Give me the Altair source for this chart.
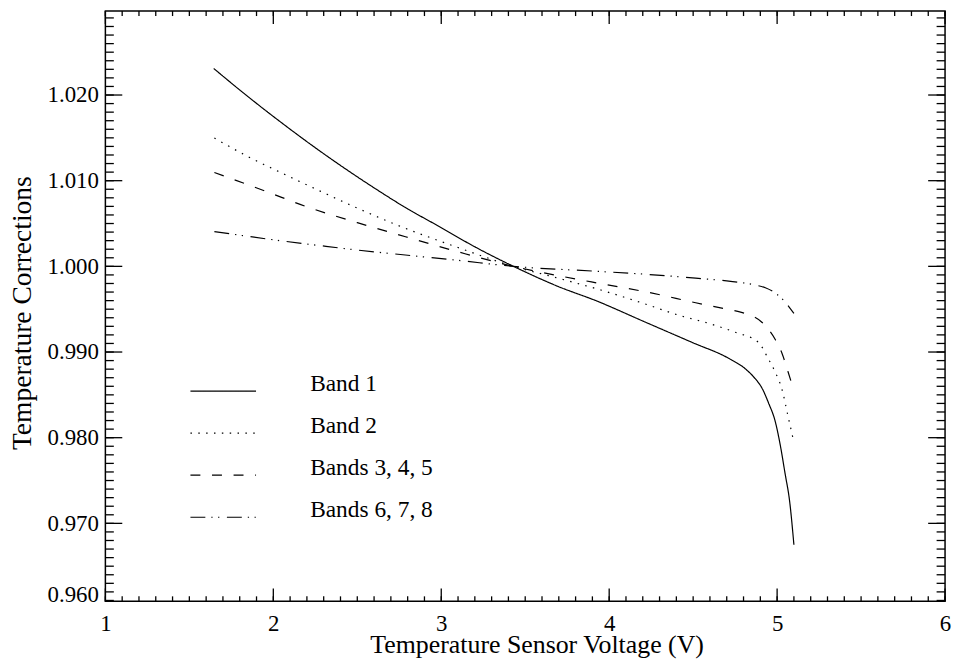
import altair as alt
import pandas as pd

# ---------------- data ----------------
BAND_NAMES = ["Band 1", "Band 2", "Bands 3, 4, 5", "Bands 6, 7, 8"]

BAND1_X = [1.645, 1.80, 1.97, 2.10, 2.266, 2.45, 2.62, 2.80, 2.976, 3.20, 3.43, 3.70, 3.923,
           4.20, 4.50, 4.71, 4.81, 4.86, 4.911, 4.95, 4.988, 5.02, 5.047, 5.075, 5.10]
BAND1_Y = [1.0231, 1.02059, 1.01795, 1.01601, 1.01362, 1.01111, 1.00891, 1.00671, 1.00478,
           1.00228, 1.0000, 0.99762, 0.99598, 0.99362, 0.99107, 0.98928, 0.98805, 0.9871,
           0.98575, 0.9840, 0.98195, 0.9790, 0.97586, 0.9725, 0.9675]

BAND2_X = [1.649, 1.85, 2.05, 2.266, 2.50, 2.74, 3.10, 3.43, 3.70, 3.95, 4.20, 4.414, 4.60,
           4.751, 4.888, 4.947, 4.99, 5.027, 5.067, 5.10]
BAND2_Y = [1.01498, 1.0128, 1.0109, 1.0089, 1.0068, 1.0048, 1.0022, 1.0000, 0.9986, 0.99724,
           0.9957, 0.9943, 0.9933, 0.9923, 0.99115, 0.98923, 0.9876, 0.98578, 0.98233, 0.97946]

BAND3_X = [1.649, 1.95, 2.207, 2.50, 2.787, 3.10, 3.43, 3.70, 3.964, 4.25, 4.515, 4.70,
           4.793, 4.911, 4.988, 5.03, 5.065, 5.10]
BAND3_Y = [1.01095, 1.0088, 1.0069, 1.0051, 1.00345, 1.0017, 1.0000, 0.9989, 0.99793,
           0.9969, 0.99575, 0.9950, 0.9946, 0.99345, 0.99149, 0.9898, 0.98770, 0.9855]

BAND4_X = [1.649, 2.0, 2.266, 2.50, 2.757, 3.10, 3.43, 3.923, 4.20, 4.515, 4.70, 4.870,
           4.93, 4.988, 5.04, 5.10]
BAND4_Y = [1.00406, 1.0031, 1.00245, 1.0019, 1.00138, 1.0007, 1.0000, 0.99943, 0.9991,
           0.99862, 0.9983, 0.99782, 0.9975, 0.9969, 0.9960, 0.9945]

X_DOMAIN = [1, 6]
Y_DOMAIN = [0.9609, 1.0298]
X_MAJOR = [1, 2, 3, 4, 5, 6]
X_MINOR = [round(1 + 0.1 * i, 1) for i in range(51)]
Y_MAJOR = [0.970, 0.980, 0.990, 1.000, 1.010, 1.020]
Y_MINOR = [round(0.961 + 0.001 * i, 3) for i in range(69)]
Y_LABEL_VALUES = [Y_DOMAIN[0]] + Y_MAJOR

# ---------------- build tables ----------------
rows = []
for name, xs_, ys_ in zip(BAND_NAMES,
                          [BAND1_X, BAND2_X, BAND3_X, BAND4_X],
                          [BAND1_Y, BAND2_Y, BAND3_Y, BAND4_Y]):
    for xv, yv in zip(xs_, ys_):
        rows.append({"band": name, "x": xv, "y": yv})
df = pd.DataFrame(rows)

x_major_df = pd.DataFrame({"v": X_MAJOR})
x_minor_df = pd.DataFrame({"v": X_MINOR})
y_major_df = pd.DataFrame({"v": Y_MAJOR})
y_minor_df = pd.DataFrame({"v": Y_MINOR})

# ---------------- styling ----------------
FONT = "Liberation Serif"
W, H = 845, 594
DASHES = [[1, 0], [1.5, 6.4], [10, 11.7], [15, 6, 1.3, 5.5, 1.3, 7.6]]
X_MAJ_LEN, X_MIN_LEN = 13, 5
Y_MAJ_LEN, Y_MIN_LEN = 17, 8.5
TICK_W = 1.3

xscale = alt.Scale(domain=X_DOMAIN, nice=False, zero=False)
yscale = alt.Scale(domain=Y_DOMAIN, nice=False, zero=False)

x_label_axis = alt.Axis(
    orient="bottom", values=X_MAJOR, format="d", ticks=False, tickSize=0, domain=False,
    grid=False, labelFlush=False, labelPadding=11.8, labelFont=FONT, labelFontSize=23,
    labelColor="black", labelOverlap=False,
    title="Temperature Sensor Voltage (V)", titleFont=FONT, titleFontSize=26,
    titleFontWeight="normal", titleColor="black", titleBaseline="alphabetic",
    titleAlign="center", titleX=434, titleY=52,
)
y_label_axis = alt.Axis(
    orient="left", values=Y_LABEL_VALUES,
    labelExpr="datum.value < 0.965 ? '0.960' : format(datum.value, '.3f')",
    ticks=False, tickSize=0, domain=False, grid=False, labelFlush=True,
    labelFlushOffset=4.8, labelPadding=7, labelFont=FONT, labelFontSize=23,
    labelColor="black", labelOverlap=False,
    title="Temperature Corrections", titleFont=FONT, titleFontSize=27.7,
    titleFontWeight="normal", titleColor="black", titleBaseline="alphabetic",
    titleAlign="center", titleAngle=270, titleX=-75, titleY=303.5,
)

legend = alt.Legend(
    orient="none", legendX=84.6, legendY=348.5, title=None, padding=0,
    symbolType="stroke", symbolSize=4356, symbolStrokeWidth=1.2,
    symbolStrokeColor="black", labelFont=FONT, labelFontSize=23.5, labelColor="black",
    labelOffset=53.5, rowPadding=3.3, labelBaseline="alphabetic", labelLimit=400,
)

lines = alt.Chart(df).mark_line(color="black", strokeWidth=1.2, interpolate="monotone").encode(
    x=alt.X("x:Q", scale=xscale, axis=x_label_axis),
    y=alt.Y("y:Q", scale=yscale, axis=y_label_axis),
    strokeDash=alt.StrokeDash("band:N", scale=alt.Scale(domain=BAND_NAMES, range=DASHES),
                              sort=BAND_NAMES, legend=legend),
)


def x_ticks(data, y0, y1):
    return alt.Chart(data).mark_rule(color="black", strokeWidth=TICK_W).encode(
        x=alt.X("v:Q", scale=xscale, axis=None),
        y=alt.value(y0), y2=alt.value(y1),
    )


def y_ticks(data, x0, x1):
    return alt.Chart(data).mark_rule(color="black", strokeWidth=TICK_W).encode(
        y=alt.Y("v:Q", scale=yscale, axis=None),
        x=alt.value(x0), x2=alt.value(x1),
    )


layers = [
    lines,
    x_ticks(x_major_df, H, H - X_MAJ_LEN),
    x_ticks(x_minor_df, H, H - X_MIN_LEN),
    x_ticks(x_major_df, 0, X_MAJ_LEN),
    x_ticks(x_minor_df, 0, X_MIN_LEN),
    y_ticks(y_major_df, 0, Y_MAJ_LEN),
    y_ticks(y_minor_df, 0, Y_MIN_LEN),
    y_ticks(y_major_df, W, W - Y_MAJ_LEN),
    y_ticks(y_minor_df, W, W - Y_MIN_LEN),
]

chart = (
    alt.layer(*layers)
    .resolve_axis(x="independent", y="independent")
    .properties(
        width=W, height=H,
        autosize=alt.AutoSizeParams(type="none"),
        padding={"left": 98, "top": 1, "right": 8, "bottom": 61},
    )
    .configure(font=FONT)
    .configure_view(stroke="black", strokeWidth=1.5)
)

chart.save("out.html", embed_options={"renderer": "svg", "actions": False})
